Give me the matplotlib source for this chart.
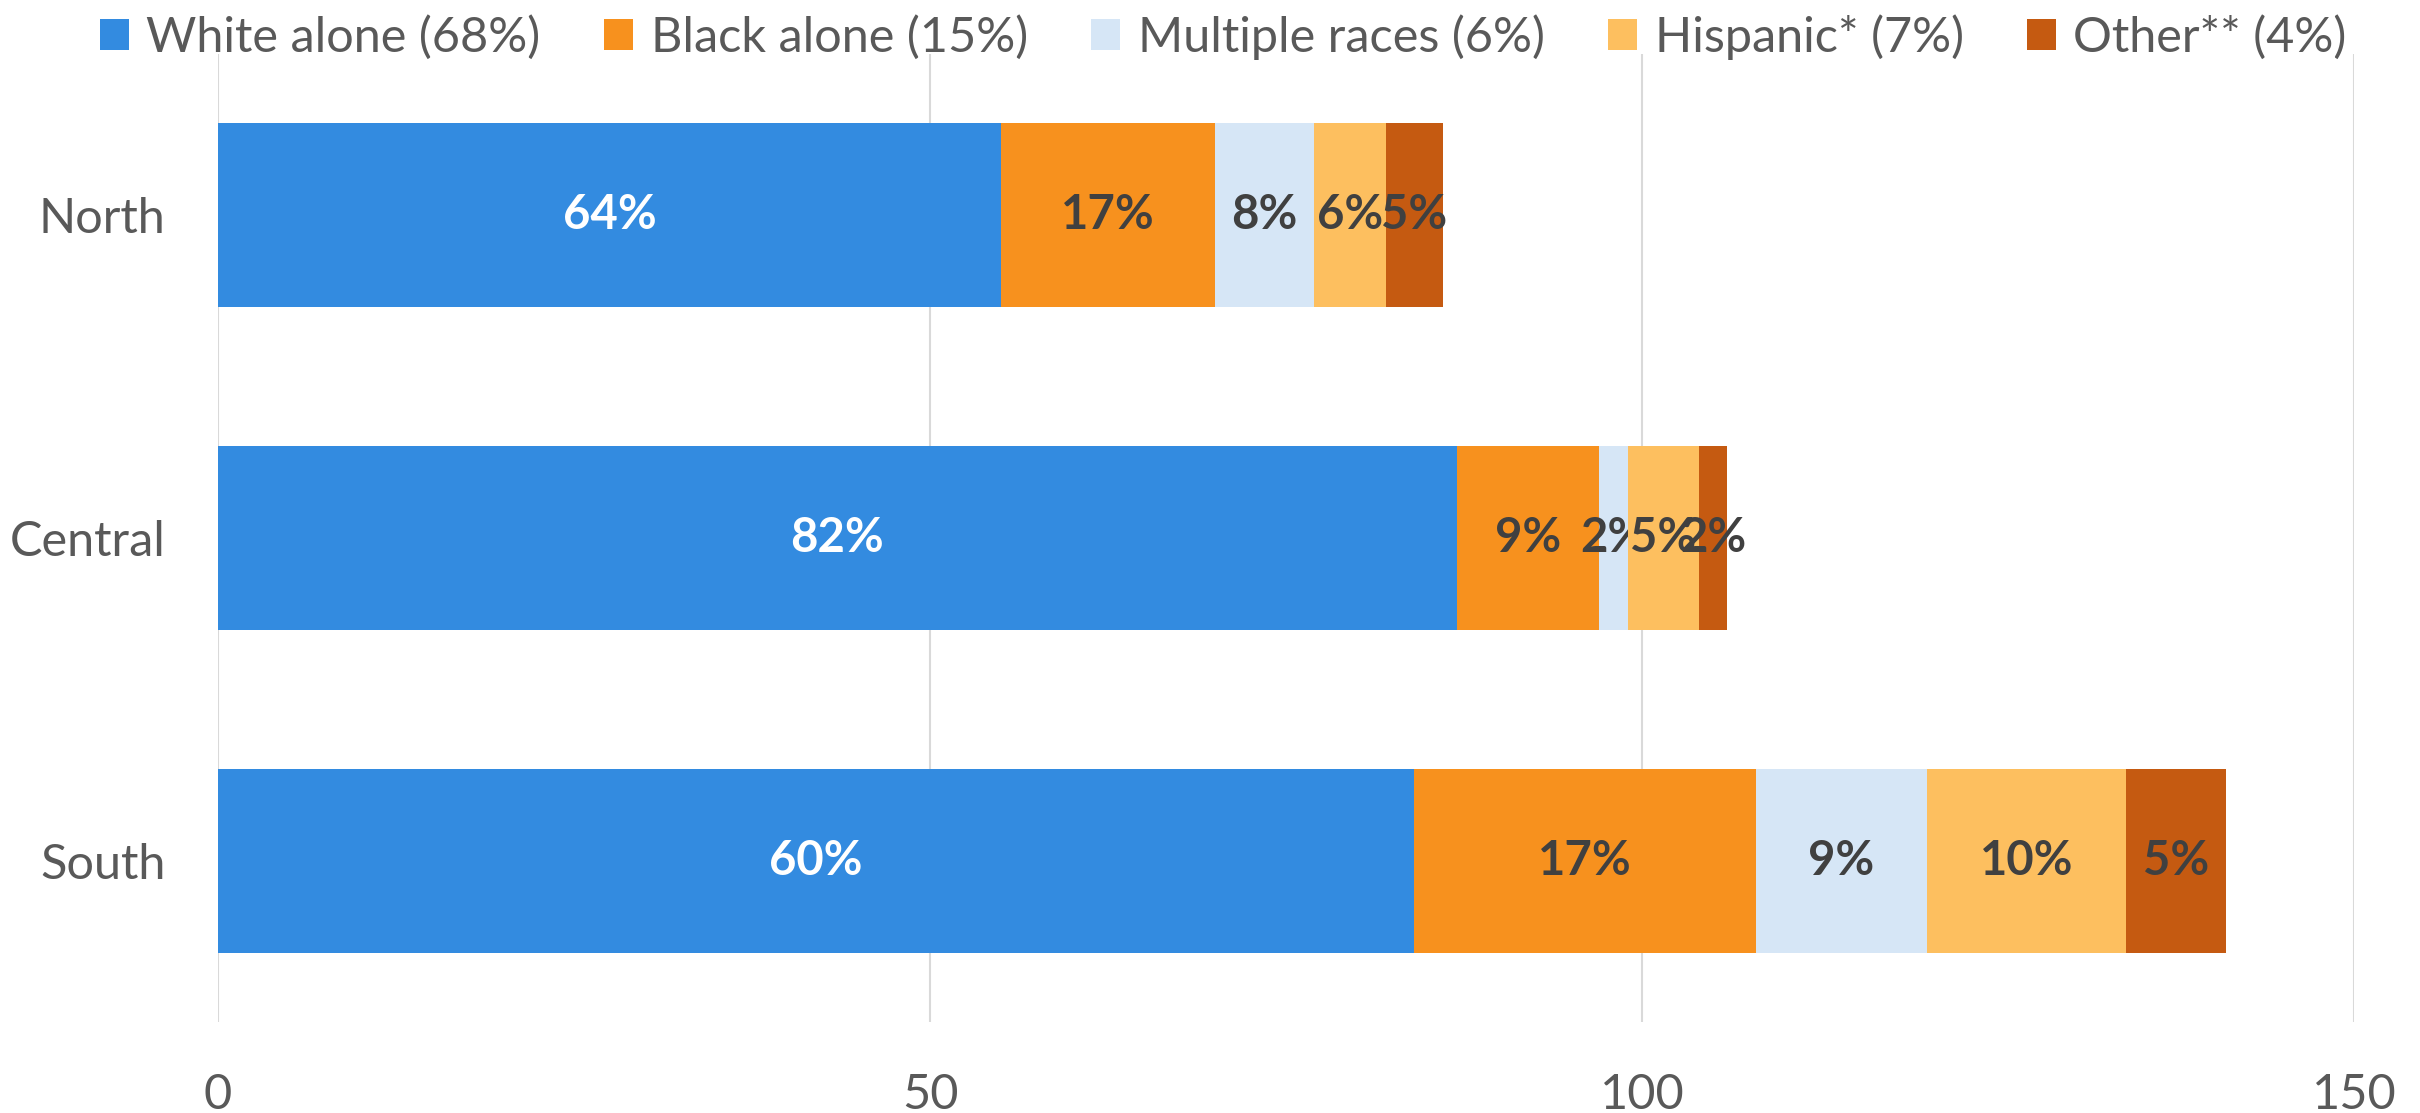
import matplotlib
matplotlib.use("Agg")
import matplotlib.pyplot as plt
import numpy as np

regions = ["North", "Central", "South"]
series_names = ["White alone (68%)", "Black alone (15%)", "Multiple races (6%)",
                "Hispanic* (7%)", "Other** (4%)"]
white = [55, 87, 84]
black = [15, 10, 24]
multiple = [7, 2, 12]
hispanic = [5, 5, 14]
other = [4, 2, 7]
xticks = [0, 50, 100, 150]

colors = ["#338BE0", "#F7911E", "#D6E6F6", "#FDBF5F", "#C55A11"]
label_colors = ["white", "#404040", "#404040", "#404040", "#404040"]

plt.rcParams['font.family'] = ['Lato', 'DejaVu Sans']

fig = plt.figure(figsize=(24.2, 11.13), dpi=100)
ax = fig.add_axes([0.0901, 0.0818, 0.8826, 0.8697])

series = [white, black, multiple, hispanic, other]
totals = np.sum(np.array(series, dtype=float), axis=0)
y = np.arange(len(regions))
left = np.zeros(len(regions))
handles = []
for vals, name, col, lc in zip(series, series_names, colors, label_colors):
    vals = np.array(vals, dtype=float)
    bars = ax.barh(y, vals, left=left, height=0.57, color=col, label=name, zorder=3)
    handles.append(bars)
    labels = [f"{round(v / t * 100):.0f}%" for v, t in zip(vals, totals)]
    ax.bar_label(bars, labels=labels, label_type='center', color=lc,
                 fontsize=34, fontweight='bold')
    left += vals

ax.set_xlim(0, 150)
ax.set_ylim(len(regions) - 0.5, -0.5)
ax.set_yticks(y)
ax.set_yticklabels(regions)
ax.set_xticks(xticks)
ax.set_xticklabels([str(t) for t in xticks])
ax.tick_params(axis='both', length=0, labelsize=35, labelcolor='#595959')
ax.tick_params(axis='x', pad=37)
ax.tick_params(axis='y', pad=38)
ax.grid(axis='x', color='#D9D9D9', linewidth=1.5, zorder=0)
for s in ax.spines.values():
    s.set_visible(False)

leg = fig.legend(handles=handles, labels=series_names, loc='upper center',
                 bbox_to_anchor=(0.5055, 1.018), ncol=5, frameon=False,
                 fontsize=35, handlelength=0.6, handleheight=0.62,
                 handletextpad=0.36, columnspacing=1.3, borderpad=0.2)
for t in leg.get_texts():
    t.set_color('#595959')

fig.savefig("out.png", dpi=100)
